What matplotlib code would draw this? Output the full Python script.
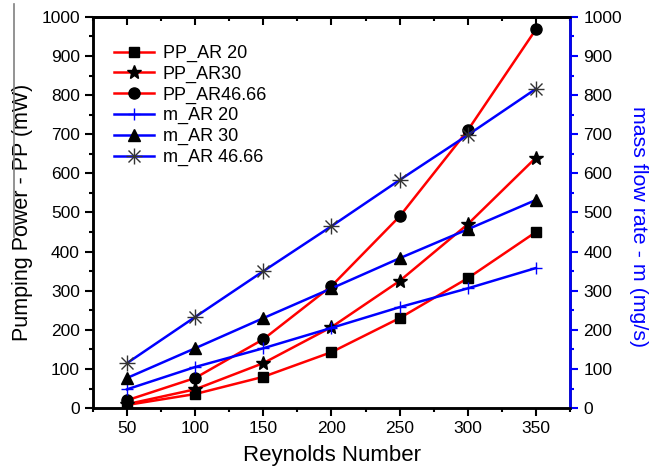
import matplotlib.pyplot as plt
from matplotlib.lines import Line2D
from matplotlib.ticker import MultipleLocator

plt.rcParams['font.family'] = ['Liberation Sans', 'DejaVu Sans']

reynolds = [50, 100, 150, 200, 250, 300, 350]

pp_ar20 = [8, 36, 80, 143, 230, 332, 450]
pp_ar30 = [10, 48, 115, 207, 325, 470, 640]
pp_ar4666 = [20, 77, 176, 312, 490, 710, 968]

m_ar20 = [48, 105, 153, 205, 258, 306, 358]
m_ar30 = [77, 153, 230, 306, 383, 457, 532]
m_ar4666 = [115, 233, 350, 465, 583, 698, 816]

fig = plt.figure(figsize=(6.62, 4.68), dpi=100)
ax = fig.add_axes([0.1405, 0.128, 0.7205, 0.836])
ax2 = ax.twinx()

red = "#ff0000"
blue = "#0000ff"
ms = 7

l1, = ax.plot(reynolds, pp_ar20, color=red, lw=1.8, marker="s", ms=ms, mfc="k", mec="k", label="PP_AR 20")
l2, = ax.plot(reynolds, pp_ar30, color=red, lw=1.8, marker="*", ms=ms + 3, mfc="k", mec="k", label="PP_AR30")
l3, = ax.plot(reynolds, pp_ar4666, color=red, lw=1.8, marker="o", ms=ms + 1, mfc="k", mec="k", label="PP_AR46.66")

l4, = ax2.plot(reynolds, m_ar20, color=blue, lw=1.8, marker="+", ms=ms + 2, mec=blue, mew=1.0, label="m_AR 20")
l5, = ax2.plot(reynolds, m_ar30, color=blue, lw=1.8, marker="^", ms=ms + 1, mfc="k", mec="k", label="m_AR 30")
ax2.plot(reynolds, m_ar4666, color=blue, lw=1.8, zorder=2)
ax2.plot(reynolds, m_ar4666, ls="none", marker="x", ms=ms + 2, mec="#333333", mew=1.0, zorder=3)
ax2.plot(reynolds, m_ar4666, ls="none", marker="+", ms=ms + 4, mec="#333333", mew=1.0, zorder=3)

ax.set_xlim(25, 375)
ax.set_ylim(0, 1000)
ax2.set_ylim(0, 1000)

ax.xaxis.set_major_locator(MultipleLocator(50))
ax.xaxis.set_minor_locator(MultipleLocator(25))
ax.yaxis.set_major_locator(MultipleLocator(100))
ax.yaxis.set_minor_locator(MultipleLocator(50))
ax2.yaxis.set_major_locator(MultipleLocator(100))
ax2.yaxis.set_minor_locator(MultipleLocator(50))

for a in (ax, ax2):
    for s in a.spines.values():
        s.set_linewidth(1.8)
ax2.spines["right"].set_color(blue)

ax.tick_params(axis="x", which="both", direction="out", top=False, width=1.5, labelsize=12.5)
ax.tick_params(axis="x", which="major", length=6)
ax.tick_params(axis="x", which="minor", length=3)
ax.tick_params(axis="y", which="both", direction="out", width=1.5, labelsize=12.5)
ax.tick_params(axis="y", which="major", length=6)
ax.tick_params(axis="y", which="minor", length=3)
ax2.tick_params(axis="y", which="both", direction="out", color=blue, width=1.5, labelsize=12.5)
ax2.tick_params(axis="y", which="major", length=6)
ax2.tick_params(axis="y", which="minor", length=3)

# ticks mirrored on top, pointing inward
top = ax.secondary_xaxis("top")
top.xaxis.set_major_locator(MultipleLocator(50))
top.xaxis.set_minor_locator(MultipleLocator(25))
top.tick_params(axis="x", which="both", direction="in", width=1.5, labeltop=False)
top.tick_params(axis="x", which="major", length=6)
top.tick_params(axis="x", which="minor", length=3)
top.spines["top"].set_linewidth(1.8)

ax.set_xlabel("Reynolds Number", fontsize=16, va="center")
ax.xaxis.set_label_coords(0.501, -0.12)
ax.set_ylabel("Pumping Power - PP (mW)", fontsize=15.5, va="center")
ax.yaxis.set_label_coords(-0.147, 0.5)
ax2.set_ylabel("mass flow rate - m (mg/s)", fontsize=15.4, color=blue, rotation=270, va="center")
ax2.yaxis.set_label_coords(1.143, 0.465)

l6 = (Line2D([], [], color=blue, lw=1.8, marker="x", ms=ms + 2, mec="#333333", mew=1.0),
      Line2D([], [], ls="none", marker="+", ms=ms + 4, mec="#333333", mew=1.0))
ax.legend([l1, l2, l3, l4, l5, l6],
          ["PP_AR 20", "PP_AR30", "PP_AR46.66", "m_AR 20", "m_AR 30", "m_AR 46.66"],
          loc="upper left", bbox_to_anchor=(0.01, 0.97), frameon=False, fontsize=13,
          handlelength=2.2, labelspacing=0.2, handletextpad=0.5)

fig.add_artist(Line2D([14 / 662, 14 / 662], [1 - 4 / 468, 1 - 237 / 468], color="gray", lw=1.2))

fig.savefig("out.png", dpi=100)
